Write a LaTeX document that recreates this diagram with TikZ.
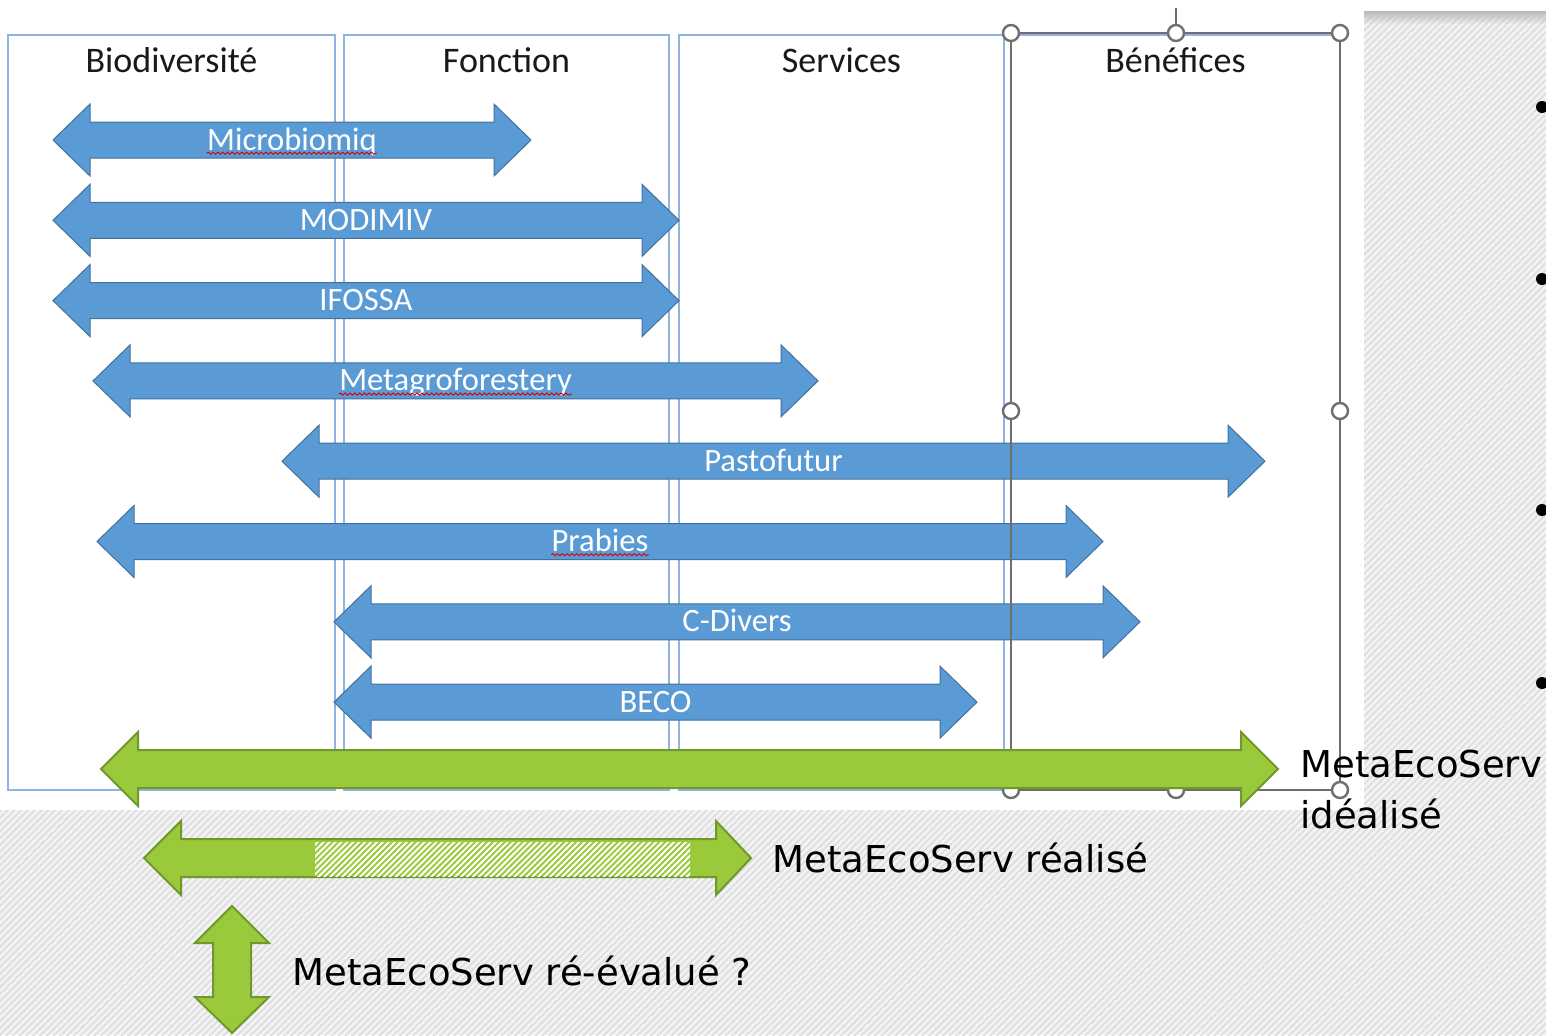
\documentclass[tikz,border=0pt]{standalone}
\usepackage{fontspec}
\setmainfont{Carlito}
\newfontfamily\slidefont{DejaVu Sans}
\usetikzlibrary{patterns.meta, decorations.pathmorphing, fadings}

\definecolor{boxblue}{RGB}{143,180,227}
\definecolor{arrowblue}{RGB}{91,155,213}
\definecolor{arrowblueline}{RGB}{65,113,156}
\definecolor{arrowgreen}{RGB}{154,202,60}
\definecolor{arrowgreenline}{RGB}{113,152,44}
\definecolor{framegray}{RGB}{110,110,110}
\definecolor{hatchbg}{RGB}{243,243,243}
\definecolor{hatchline}{RGB}{222,222,222}

\tikzset{
	column/.style={draw=boxblue, line width=0.75pt},
	header/.style={anchor=base, inner sep=0pt, text=black!90, font=\fontsize{18}{21}\selectfont},
	project/.style={fill=arrowblue, draw=arrowblueline, line width=0.5pt, line join=miter},
	projlabel/.style={anchor=base, inner sep=0pt, text=white, font=\fontsize{16.3}{19}\selectfont},
	spell/.style={draw=red!85!black, line width=0.45pt, decorate, decoration={snake, amplitude=0.55pt, segment length=2.4pt}},
	meta/.style={fill=arrowgreen, draw=arrowgreenline, line width=1pt, line join=miter},
	metatext/.style={anchor=base west, inner sep=0pt, align=left, font=\slidefont\fontsize{18.5}{25.5}\selectfont},
	handle/.style={fill=white, draw=framegray, line width=1.2pt},
	bghatch/.style={fill=hatchbg, postaction={pattern={Lines[angle=45, distance=2.4pt, line width=0.9pt]}, pattern color=hatchline}},
}

\begin{document}
\begin{tikzpicture}[x=0.5pt, y=-0.5pt]
					\useasboundingbox (0,0) rectangle (1546,1035);
					% ====== Slide background ========
					\fill[white] (0,0) rectangle (1546,1035);
					\path[bghatch] (1364,11) rectangle (1546,1035);
					\path[bghatch] (0,810) rectangle (1546,1035);
					\fill[gray!55, path fading=south] (1364,11) rectangle (1546,24);

					% ====== Columns ========
					\foreach \xa/\xb/\txt [count=\col] in {8/335/Biodiversité, 344/669/Fonction, 679/1004/Services, 1011/1340/Bénéfices} {
						\draw[column] (\xa,35) rectangle (\xb,790);
						\node[header] (col\col) at ({(\xa+\xb)/2},72) {\txt};
					}

					% ====== Projects ========
					\foreach \xl/\xr/\txt/\wavy [count=\i] in {53/531/Microbiomiq/1, 53/679/MODIMIV/0, 53/679/IFOSSA/0, 93/818/Metagroforestery/1, 282/1265/Pastofutur/0, 97/1103/Prabies/1, 334/1140/C-Divers/0, 334/977/BECO/0} {
						\pgfmathsetmacro{\yc}{140+80.3*(\i-1)}
						\draw[project] (\xl,\yc) -- ++(37,-36) -- ++(0,18) -- (\xr-37,\yc-18) -- ++(0,-18) -- (\xr,\yc)
							-- (\xr-37,\yc+36) -- ++(0,-18) -- (\xl+37,\yc+18) -- ++(0,18) -- cycle;
						\node[projlabel] (proj\i) at ({(\xl+\xr)/2},\yc+10) {\txt};
						\ifnum\wavy=1 \draw[spell] ([yshift=-1.6pt]proj\i.base west) -- ([yshift=-1.6pt]proj\i.base east); \fi
					}

					% ====== Selection frame ========
					\draw[framegray, line width=0.75pt] (1176,33) -- (1176,8);
					\draw[framegray, line width=0.75pt] (1011,33) rectangle (1340,790);
					\foreach \hx/\hy in {1011/33, 1176/33, 1340/33, 1011/411, 1340/411, 1011/790, 1176/790, 1340/790}
						\draw[handle] (\hx,\hy) circle (8);

					% ====== MetaEcoServ ========
					\draw[meta] (101,769) -- (138,732) -- (138,750) -- (1241,750) -- (1241,732) -- (1278,769)
						-- (1241,806) -- (1241,788) -- (138,788) -- (138,806) -- cycle;
					\draw[meta] (144,858) -- (181,821) -- (181,839) -- (716,839) -- (716,821) -- (751,858)
						-- (716,895) -- (716,877) -- (181,877) -- (181,895) -- cycle;
					\path[pattern={Lines[angle=45, distance=2.1pt, line width=1pt]}, pattern color=white] (315,842) rectangle (690,876);
					\draw[meta] (232,906) -- (269,943) -- (251,943) -- (251,997) -- (269,997) -- (232,1033)
						-- (195,997) -- (213,997) -- (213,943) -- (195,943) -- cycle;

					\node[metatext] (idealise) at (1300,828) {MetaEcoServ\\idéalisé};
					\node[metatext] (realise) at (772,872) {MetaEcoServ réalisé};
					\node[metatext] (reevalue) at (292,985) {MetaEcoServ ré-évalué ?};

					% ====== Bullets ========
					\foreach \by in {107,279,510,683} {\fill (1542,\by) circle (6);}
\end{tikzpicture}
\end{document}
